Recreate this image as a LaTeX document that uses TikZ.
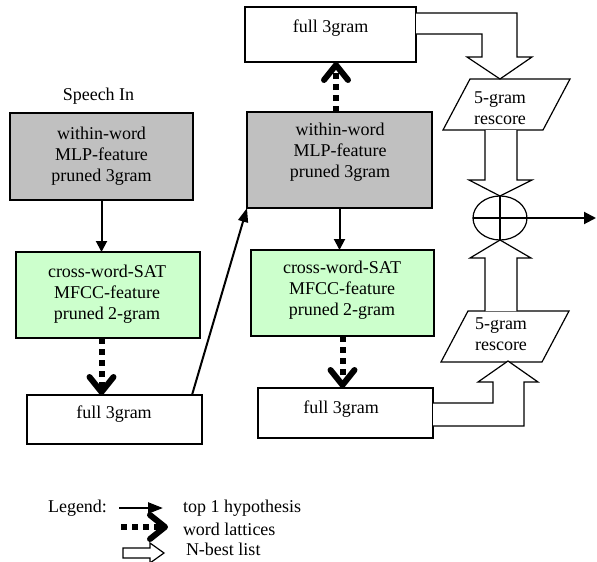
\documentclass[tikz,border=0pt]{standalone}
\usepackage{fontspec}
\setmainfont{Liberation Serif}
\usetikzlibrary{arrows.meta,shapes.geometric,calc}
\definecolor{boxgray}{RGB}{192,192,192}
\definecolor{boxgreen}{RGB}{204,255,204}
\begin{document}
\begin{tikzpicture}[x=1pt,y=-1pt,
  every node/.style={font=\fontsize{18}{21}\selectfont, inner sep=0pt, outer sep=0pt},
  box/.style={draw, line width=1.2pt, rectangle},
  txt/.style={align=center},
  toparrow/.style={line width=2pt, -{Triangle[length=11pt,width=11pt]}},
  latarrow/.style={line width=6pt, dash pattern=on 6pt off 5pt,
     -{Straight Barb[length=15pt,width=24pt,round]}},
  hollow/.style={line width=1.2pt, line join=miter, fill=white},
  para/.style={line width=1.2pt, fill=white}
]
\useasboundingbox (0,0) rectangle (597,562);

% left column
\node (speech) at (98.5,96) {Speech In};
\node[box, fill=boxgray, minimum width=183pt, minimum height=87pt] (g1) at (101.5,156.5) {};
\node[txt] (g1t) at (101.5,156) {within-word\\MLP-feature\\pruned 3gram};
\node[box, fill=boxgreen, minimum width=184pt, minimum height=86pt] (c1) at (108,295) {};
\node[txt] (c1t) at (107,294) {cross-word-SAT\\MFCC-feature\\pruned 2-gram};
\node[box, fill=white, minimum width=175pt, minimum height=49pt] (f1) at (114.5,419.5) {};
\node (f1t) at (114,414) {full 3gram};

% middle column
\node[box, fill=white, minimum width=171pt, minimum height=55pt] (ftop) at (330.5,34.5) {};
\node (ftopt) at (330.5,28) {full 3gram};
\node[box, fill=boxgray, minimum width=185pt, minimum height=96pt] (g2) at (339.5,160) {};
\node[txt] (g2t) at (340,152.5) {within-word\\MLP-feature\\pruned 3gram};
\node[box, fill=boxgreen, minimum width=183pt, minimum height=86pt] (c2) at (342.5,293) {};
\node[txt] (c2t) at (342,290) {cross-word-SAT\\MFCC-feature\\pruned 2-gram};
\node[box, fill=white, minimum width=175pt, minimum height=50pt] (f3) at (345.5,413) {};
\node (f3t) at (341,409) {full 3gram};

% right column
\draw[para] (470,79) -- (570,79) -- (543,130) -- (443,130) -- cycle;
\node[txt] (rs1) at (500,108) {5-gram\\rescore};
\draw[para] (468,311) -- (569,311) -- (542,362) -- (441,362) -- cycle;
\node[txt] (rs2) at (501,334.5) {5-gram\\rescore};
\node[draw, ellipse, line width=1.2pt, minimum width=54pt, minimum height=44pt] (sum) at (500,218) {};
\draw[line width=1.2pt] (sum.north) -- (sum.south) (sum.west) -- (sum.east);
\coordinate (out) at (596,218);

% top-1 connectors
\draw[toparrow] (g1.south) -- (g1.south |- c1.north);
\draw[line width=2pt, -{Triangle[length=14pt,width=10pt]}] ($(f1.north east)+(-10,0)$) -- (g2.south west);
\draw[toparrow] (g2.south) -- (g2.south |- c2.north);
\draw[line width=2pt, -{Triangle[length=12pt,width=12pt]}] (sum.east) -- (out);

% lattice connectors
\coordinate (g2n) at ($(g2.north)+(-3.5,0)$);
\draw[latarrow] (g1.south |- c1.south) -- (g1.south |- f1.north);
\draw[latarrow] (g2n) -- (g2n |- ftop.south);
\draw[latarrow] (c2.south) -- (c2.south |- f3.north);

% N-best connectors
\draw[hollow] (ftop.east |- 0,13) -- (517,13) -- (517,57) -- (532,57) -- (500,79)
   -- (467,57) -- (482,57) -- (482,34) -- (ftop.east |- 0,34);
\draw[hollow] (485,130) -- (485,180) -- (469,180) -- (sum.north) -- (532,180) -- (517,180) -- (517,130);
\draw[hollow] (485,311) -- (485,258) -- (470,258) -- (sum.south) -- (531,258) -- (517,258) -- (517,311);
\draw[hollow] (f3.east |- 0,403) -- (493,403) -- (493,382) -- (478,382) -- (508,361)
   -- (538,382) -- (524,382) -- (524,426) -- (f3.east |- 0,426);

% legend
\node (leg) at (77.5,508) {Legend:};
\coordinate (l1a) at (119,508);
\coordinate (l1b) at (163,508);
\draw[line width=2.5pt, -{Triangle[length=15pt,width=11pt]}] (l1a) -- (l1b);
\node[anchor=west] (l1t) at (183,508) {top 1 hypothesis};
\coordinate (l2a) at (121,527);
\coordinate (l2b) at (168,527);
\draw[latarrow] (l2a) -- (l2b);
\node[anchor=west] (l2t) at (183,529) {word lattices};
\draw[hollow] (123,548) -- (150,548) -- (150,543) -- (164,553) -- (150,563) -- (150,558) -- (123,558) -- cycle;
\node[anchor=west] (l3t) at (186,549) {N-best list};
\end{tikzpicture}
\end{document}
